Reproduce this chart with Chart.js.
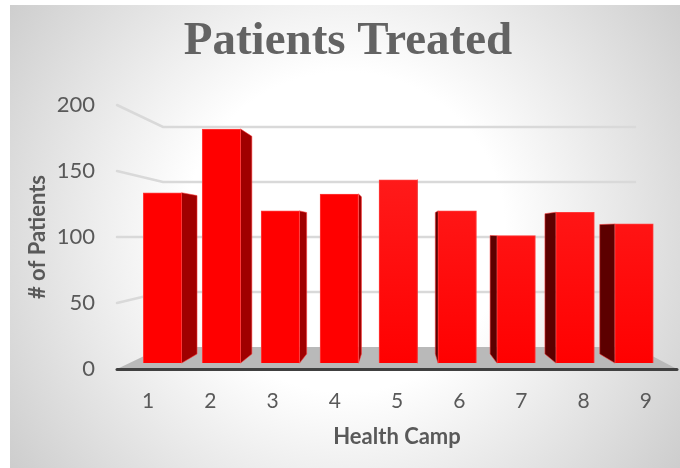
<!DOCTYPE html>
<html>
<head>
<meta charset="utf-8">
<title>Patients Treated</title>
<script src="https://cdn.jsdelivr.net/npm/chart.js@4/dist/chart.umd.min.js"></script>
<style>
  html, body { margin: 0; padding: 0; background: #fff; }
  #wrap { width: 680px; height: 468px; }
</style>
</head>
<body>
<div id="wrap"><canvas id="c" width="680" height="468"></canvas></div>
<script>
// Patients treated per health camp
const camps = ['1', '2', '3', '4', '5', '6', '7', '8', '9'];
const campNumbers = [1, 2, 3, 4, 5, 6, 7, 8, 9];
const patients = [131, 180, 117, 130, 141, 117, 98, 116, 107];
const axisTicks = [0, 50, 100, 150, 200];

// Perspective of the 3D box: vanishing point and depth factor
const VANISH = { x: 400, y: 233 };
const DEPTH = 0.07;
const project = (x, y) => ({ x: x + (VANISH.x - x) * DEPTH, y: y + (VANISH.y - y) * DEPTH });

function fillPoly(ctx, pts, color) {
  ctx.beginPath();
  pts.forEach((p, i) => i ? ctx.lineTo(p.x, p.y) : ctx.moveTo(p.x, p.y));
  ctx.closePath();
  ctx.fillStyle = color;
  ctx.fill();
}

// Panel behind the chart: white centre fading to grey corners
const panel = {
  id: 'panel',
  beforeDraw(chart) {
    const { ctx } = chart;
    ctx.save();
    const cx = 345, cy = 232;
    const g = ctx.createRadialGradient(cx, cy, 160, cx, cy, 430);
    g.addColorStop(0, '#ffffff');
    g.addColorStop(1, '#c9c9c9');
    ctx.fillStyle = g;
    ctx.fillRect(10, 5, 670, 463);
    ctx.restore();
  }
};

// Back wall gridlines, floor and the side faces of the bars
const box3d = {
  id: 'box3d',
  beforeDatasetsDraw(chart) {
    const { ctx, chartArea: area, scales } = chart;
    const yFront = scales.y, yWall = scales.yWall, xBar = scales.xBar;
    const wallL = xBar.getPixelForValue(1) + 0.5;
    const wallR = xBar.getPixelForValue(9) + 1;
    ctx.save();

    // floor
    const floorBack = yWall.getPixelForValue(0);
    fillPoly(ctx, [
      { x: area.left, y: area.bottom },
      { x: wallL, y: floorBack },
      { x: wallR, y: floorBack },
      { x: area.right, y: area.bottom }
    ], '#b9b9b9');

    // gridlines: a slanted part on the side wall, a straight part on the back wall
    ctx.lineCap = 'round';
    ctx.strokeStyle = '#d9d9d9';
    axisTicks.forEach(v => {
      if (v === 0) return;
      const yF = yFront.getPixelForValue(v), yB = yWall.getPixelForValue(v);
      ctx.lineWidth = 2.5;
      ctx.beginPath();
      ctx.moveTo(area.left, yF);
      ctx.lineTo(wallL, yB);
      ctx.lineTo(wallR, yB);
      ctx.stroke();
    });

    // side face of each bar, on whichever side faces the vanishing point
    chart.getDatasetMeta(0).data.forEach(bar => {
      const l = bar.x - bar.width / 2, r = bar.x + bar.width / 2;
      const sideX = bar.x < VANISH.x ? r : l;
      const tb = project(sideX, bar.y), bb = project(sideX, bar.base);
      const color = bar.x < VANISH.x ? '#a00000' : '#5c0000';
      fillPoly(ctx, [{ x: sideX, y: bar.y }, tb, bb, { x: sideX, y: bar.base }], color);
      ctx.strokeStyle = 'rgba(255,60,60,0.55)';
      ctx.lineWidth = 1;
      ctx.beginPath();
      ctx.moveTo(sideX, bar.y); ctx.lineTo(tb.x, tb.y); ctx.lineTo(bb.x, bb.y); ctx.lineTo(sideX, bar.base);
      ctx.stroke();
    });

    // dark front edge of the floor
    ctx.strokeStyle = '#404040';
    ctx.lineWidth = 3;
    ctx.beginPath();
    ctx.moveTo(area.left, area.bottom + 0.5);
    ctx.lineTo(area.right, area.bottom + 0.5);
    ctx.stroke();
    ctx.restore();
  }
};

new Chart(document.getElementById('c'), {
  type: 'bar',
  data: {
    labels: camps,
    datasets: [{
      data: campNumbers.map((n, i) => ({ x: n, y: patients[i] })),
      xAxisID: 'xBar',
      yAxisID: 'yBar',
      barThickness: 38.5,
      borderWidth: 1,
      borderColor: '#ff3a3a',
      backgroundColor(ctx) {
        if (ctx.dataIndex < 4 || !ctx.chart.chartArea) return '#ff0000';
        const g = ctx.chart.ctx.createLinearGradient(0, ctx.chart.chartArea.top + 60, 0, ctx.chart.chartArea.bottom);
        g.addColorStop(0, '#ff1c1c');
        g.addColorStop(1, '#ff0000');
        return g;
      }
    }]
  },
  plugins: [panel, box3d],
  options: {
    responsive: false,
    animation: false,
    layout: { padding: { left: 19, right: 3, top: 0, bottom: 0 } },
    plugins: {
      legend: { display: false },
      tooltip: { enabled: false },
      title: {
        display: true,
        text: 'Patients Treated',
        color: '#636363',
        font: { family: '"Liberation Serif", serif', size: 47, weight: 'bold', lineHeight: 1 },
        padding: { top: 18, bottom: 40 }
      }
    },
    scales: {
      x: {
        type: 'category',
        position: 'bottom',
        grid: { display: false, drawTicks: false },
        border: { display: false },
        ticks: { color: '#595959', font: { family: 'Lato', size: 21 }, padding: 20, maxRotation: 0 },
        title: {
          display: true,
          text: 'Health Camp',
          color: '#595959',
          font: { family: 'Lato', size: 22, weight: 'bold' },
          padding: { top: 8, bottom: 18 }
        },
        afterFit(axis) { axis.height = 99; }
      },
      y: {
        position: 'left',
        min: 0,
        max: 200,
        grid: { display: false, drawTicks: false },
        border: { display: false },
        ticks: { stepSize: 50, color: '#595959', font: { family: 'Lato', size: 22 }, padding: 22 },
        title: {
          display: true,
          text: '# of Patients',
          color: '#595959',
          font: { family: 'Lato', size: 22, weight: 'bold' },
          padding: { top: 6, bottom: 6 }
        },
        afterFit(axis) { axis.width = 98; }
      },
      // bars stand on the front of the floor, inset from the axis ends
      xBar: { type: 'linear', display: false, offset: false, min: 0.228, max: 9.729 },
      yBar: { display: false, min: -4.6, max: 198.5 },
      // scale of the back wall
      yWall: { display: false, min: -20, max: 220 }
    }
  }
});
</script>
</body>
</html>
